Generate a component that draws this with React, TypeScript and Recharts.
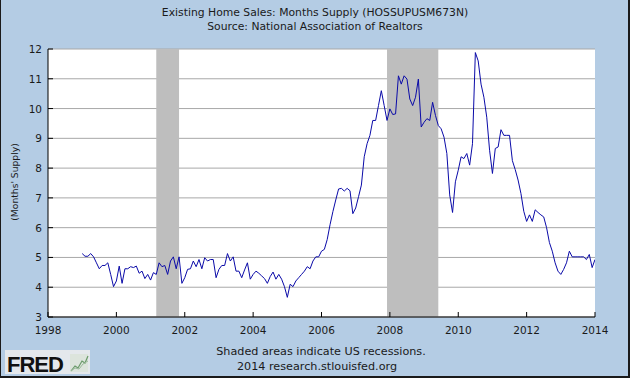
import React from 'react';
import { LineChart, Line, XAxis, YAxis, CartesianGrid, ReferenceArea } from 'recharts';

// Monthly months-supply values, Jan..Dec of each year (1999..2013), plus Jan 2014
const v1999 = [5.13, 5.04, 5.04, 5.13, 5.02, 4.82, 4.62, 4.73, 4.73, 4.82, 4.43, 4.02];
const v2000 = [4.21, 4.71, 4.13, 4.62, 4.62, 4.69, 4.66, 4.71, 4.47, 4.54, 4.29, 4.43];
const v2001 = [4.24, 4.49, 4.43, 4.82, 4.69, 4.73, 4.43, 4.88, 5.02, 4.62, 5.02, 4.13];
const v2002 = [4.32, 4.6, 4.62, 4.88, 4.69, 4.93, 4.62, 4.99, 4.88, 4.93, 4.93, 4.32];
const v2003 = [4.6, 4.73, 4.73, 5.13, 4.88, 5.02, 4.54, 4.54, 4.32, 4.58, 4.82, 4.27];
const v2004 = [4.43, 4.54, 4.47, 4.38, 4.29, 4.13, 4.36, 4.51, 4.27, 4.43, 4.27, 4.02];
const v2005 = [3.66, 4.1, 4.02, 4.21, 4.32, 4.43, 4.54, 4.69, 4.62, 4.88, 5.02, 5.02];
const v2006 = [5.21, 5.27, 5.6, 6.1, 6.54, 6.93, 7.3, 7.32, 7.23, 7.32, 7.24, 6.47];
const v2007 = [6.66, 7.04, 7.43, 8.38, 8.82, 9.1, 9.6, 9.6, 10.1, 10.6, 10.1, 9.6];
const v2008 = [9.99, 9.8, 9.82, 11.1, 10.82, 11.1, 10.99, 10.32, 10.1, 10.38, 10.99, 9.38];
const v2009 = [9.54, 9.66, 9.6, 10.21, 9.77, 9.43, 9.32, 9.04, 8.49, 7.1, 6.51, 7.54];
const v2010 = [7.93, 8.38, 8.32, 8.49, 8.1, 8.82, 11.88, 11.6, 10.82, 10.38, 9.71, 8.6];
const v2011 = [7.82, 8.66, 8.71, 9.29, 9.1, 9.1, 9.1, 8.25, 7.95, 7.6, 7.15, 6.55];
const v2012 = [6.21, 6.43, 6.21, 6.6, 6.51, 6.43, 6.36, 6.0, 5.5, 5.21, 4.82, 4.54];
const v2013 = [4.43, 4.6, 4.82, 5.21, 5.02, 5.02, 5.02, 5.02, 5.02, 4.93, 5.1, 4.66];
const v2014 = [4.93];

const firstYear = 1999;
const yearlyValues = [v1999, v2000, v2001, v2002, v2003, v2004, v2005, v2006, v2007, v2008, v2009, v2010, v2011, v2012, v2013, v2014];

const xTicks = [1998, 2000, 2002, 2004, 2006, 2008, 2010, 2012, 2014];
const yTicks = [3, 4, 5, 6, 7, 8, 9, 10, 11, 12];

// Recession periods (decimal years)
const recessionStarts = [2001 + 2 / 12, 2007 + 11 / 12];
const recessionEnds = [2001 + 10 / 12, 2009 + 5 / 12];

const titleLines = ['Existing Home Sales: Months Supply (HOSSUPUSM673N)', 'Source: National Association of Realtors'];
const yLabel = "(Months' Supply)";
const noteLines = ['Shaded areas indicate US recessions.', '2014 research.stlouisfed.org'];

const data: { t: number; v: number }[] = [];
yearlyValues.forEach((arr, yi) => {
  arr.forEach((v, mi) => {
    data.push({ t: firstYear + yi + mi / 12, v });
  });
});

const FONT = '"DejaVu Sans", Verdana, sans-serif';
const TEXT = '#1a1a1a';

const XTick = (props: any) => {
  const { x, y, payload } = props;
  return (
    <g>
      <line x1={x} x2={x} y1={y} y2={y - 5} stroke="#000" strokeWidth={1} />
      <text x={x} y={y + 17} textAnchor="middle" fontFamily={FONT} fontSize={10.5} fill={TEXT}>
        {payload.value}
      </text>
    </g>
  );
};

const YTick = (props: any) => {
  const { x, y, payload } = props;
  return (
    <g>
      <line x1={x} x2={x + 5} y1={y} y2={y} stroke="#000" strokeWidth={1} />
      <text x={x - 6} y={y + 4} textAnchor="end" fontFamily={FONT} fontSize={10.5} fill={TEXT}>
        {payload.value}
      </text>
    </g>
  );
};

export default function App() {
  return (
    <div style={{ position: 'absolute', left: 0, top: 0, width: 630, height: 378, background: '#B4CCE4', overflow: 'hidden' }}>
      <LineChart
        width={630}
        height={378}
        data={data}
        margin={{ top: 49, right: 35, left: 0, bottom: 0 }}
      >
        <CartesianGrid vertical={false} stroke="#A8A8A8" fill="#FFFFFF" />
        {recessionStarts.map((s, i) => (
          <ReferenceArea key={i} x1={s} x2={recessionEnds[i]} y1={3} y2={12} fill="#BEBEBE" fillOpacity={1} stroke="none" ifOverflow="hidden" />
        ))}
        <XAxis
          dataKey="t"
          type="number"
          domain={[1998, 2014]}
          ticks={xTicks}
          allowDataOverflow
          height={61}
          tickSize={0}
          tickMargin={0}
          tickLine={false}
          axisLine={{ stroke: '#000' }}
          tick={<XTick />}
          interval={0}
        />
        <YAxis
          type="number"
          domain={[3, 12]}
          ticks={yTicks}
          allowDataOverflow
          width={48}
          tickSize={0}
          tickMargin={0}
          tickLine={false}
          axisLine={{ stroke: '#000' }}
          tick={<YTick />}
          interval={0}
        />
        <Line type="linear" dataKey="v" stroke="#0A0AA8" strokeWidth={1} dot={false} isAnimationActive={false} />
      </LineChart>
      <svg width={630} height={378} style={{ position: 'absolute', left: 0, top: 0, pointerEvents: 'none' }}>
        <text x={315} y={16} textAnchor="middle" fontFamily={FONT} fontSize={10.8} fill={TEXT}>{titleLines[0]}</text>
        <text x={315} y={30} textAnchor="middle" fontFamily={FONT} fontSize={10.8} fill={TEXT}>{titleLines[1]}</text>
        <text x={0} y={0} transform="translate(18,182) rotate(-90)" textAnchor="middle" fontFamily={FONT} fontSize={9.2} fill={TEXT}>{yLabel}</text>
        <text x={321} y={355} textAnchor="middle" fontFamily={FONT} fontSize={11.2} fill={TEXT}>{noteLines[0]}</text>
        <text x={317} y={370} textAnchor="middle" fontFamily={FONT} fontSize={11.2} fill={TEXT}>{noteLines[1]}</text>
        <rect x={5} y={350} width={85} height={24} fill="#E4E8EC" />
        <text x={7} y={372} fontFamily='"Liberation Sans", Arial, sans-serif' fontWeight={900} fontSize={22} fill="#111" letterSpacing={-1}>FRED</text>
        <rect x={70} y={354} width={18} height={18} fill="#DCE4DC" />
        <polyline points="71,371 75,366 78,368 82,361 85,363 88,356" fill="none" stroke="#6A9A6A" strokeWidth={1.2} />
        <polyline points="71,371 75,368 79,369 83,364 88,361" fill="none" stroke="#9ABA9A" strokeWidth={1} />
        <rect x={0} y={0} width={1} height={378} fill="#1a1a1a" />
        <rect x={628} y={0} width={2} height={378} fill="#1a1a1a" />
        <rect x={0} y={376} width={630} height={2} fill="#1a1a1a" />
      </svg>
    </div>
  );
}
